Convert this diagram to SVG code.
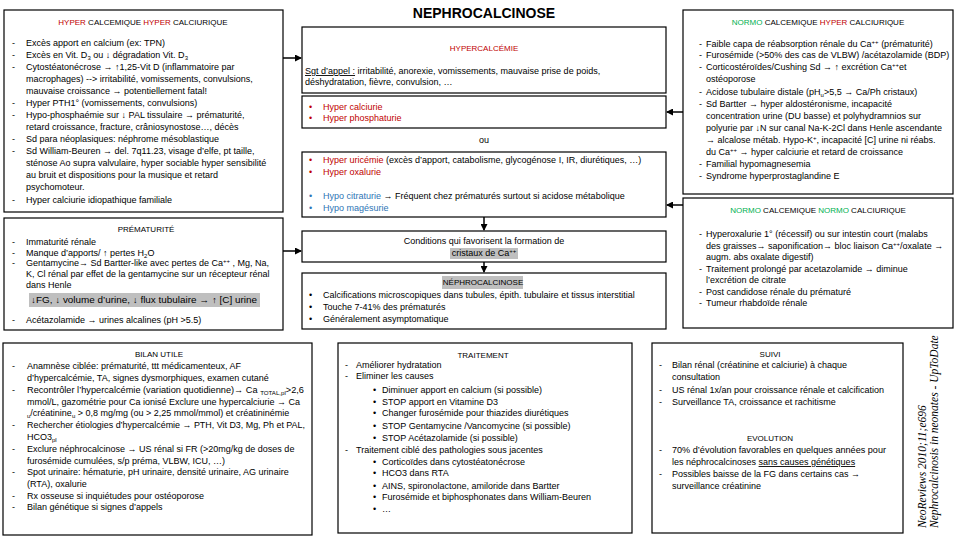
<svg xmlns="http://www.w3.org/2000/svg" width="960" height="540" viewBox="0 0 960 540">
<defs>
<style>
text{font-family:"Liberation Sans",Arial,sans-serif;font-size:9px;fill:#000}
.hd{font-size:8px}
.c{text-anchor:middle}
.box{fill:#fff;stroke:#000;stroke-width:1.2}
.r{fill:#c00000}
.g{fill:#00b050}
.b{fill:#2e75b6}
.hl{fill:#bfbfbf}
.title{font-size:14px;font-weight:bold}
.cite{font-family:"Liberation Serif","Times New Roman",serif;font-style:italic;font-size:11.5px}
.conn line{stroke:#000;stroke-width:1.5}
.u{text-decoration:underline}
.sm{font-size:6px}
</style>
<marker id="ah" markerWidth="7" markerHeight="7" refX="6" refY="3.5" orient="auto" markerUnits="userSpaceOnUse"><path d="M0,0 L7,3.5 L0,7 z" fill="#000"/></marker>
</defs>
<rect width="960" height="540" fill="#fff"/>

<text class="c title" x="484" y="18">NEPHROCALCINOSE</text>

<g id="hyper-hyper">
<rect class="box" x="4" y="10" width="279" height="202"/>
<text class="c hd" x="143" y="25"><tspan class="r">HYPER</tspan> CALCEMIQUE <tspan class="r">HYPER</tspan> CALCIURIQUE</text>
<text x="12" y="46">-</text><text x="26" y="46">Excès apport en calcium (ex: TPN)</text>
<text x="12" y="58">-</text><text x="26" y="58">Excès en Vit. D<tspan class="sm" dy="1.5">3</tspan><tspan dy="-1.5"> ou ↓ dégradation Vit. D</tspan><tspan class="sm" dy="1.5">3</tspan></text>
<text x="12" y="70">-</text><text x="26" y="70">Cytostéatonécrose → ↑1,25-Vit D (inflammatoire par</text>
<text x="26" y="82">macrophages) --&gt; irritabilité, vomissements, convulsions,</text>
<text x="26" y="94">mauvaise croissance → potentiellement fatal!</text>
<text x="12" y="106">-</text><text x="26" y="106">Hyper PTH1° (vomissements, convulsions)</text>
<text x="12" y="118">-</text><text x="26" y="118">Hypo-phosphaémie sur ↓ PAL tissulaire → prématurité,</text>
<text x="26" y="130">retard croissance, fracture, crâniosynostose…, décès</text>
<text x="12" y="142">-</text><text x="26" y="142">Sd para néoplasiques: néphrome mésoblastique</text>
<text x="12" y="154">-</text><text x="26" y="154">Sd William-Beuren → del. 7q11.23, visage d’elfe, pt taille,</text>
<text x="26" y="166">sténose Ao supra valvulaire, hyper sociable hyper sensibilité</text>
<text x="26" y="178">au bruit et dispositions pour la musique et retard</text>
<text x="26" y="190">psychomoteur.</text>
<text x="12" y="203">-</text><text x="26" y="203">Hyper calciurie idiopathique familiale</text>
</g>

<g id="prematurite">
<rect class="box" x="4" y="218" width="279" height="112"/>
<text class="c hd" x="146" y="232">PRÉMATURITÉ</text>
<text x="12" y="245">-</text><text x="26" y="245">Immaturité rénale</text>
<text x="12" y="256">-</text><text x="26" y="256">Manque d’apports/ ↑ pertes H<tspan class="sm" dy="1.5">2</tspan><tspan dy="-1.5">O</tspan></text>
<text x="12" y="266">-</text><text x="26" y="266">Gentamycine→ Sd Bartter-like avec pertes de Ca<tspan class="sm" dy="-3">++</tspan><tspan dy="3"> , Mg, Na,</tspan></text>
<text x="26" y="277">K, Cl rénal par effet de la gentamycine sur un récepteur rénal</text>
<text x="26" y="288">dans Henle</text>
<rect class="hl" x="29" y="293" width="231" height="14"/>
<text x="31" y="303" textLength="226" lengthAdjust="spacingAndGlyphs">↓FG, ↓ volume d’urine, ↓ flux tubulaire → ↑ [C] urine</text>
<text x="12" y="323">-</text><text x="26" y="323">Acétazolamide → urines alcalines (pH &gt;5.5)</text>
</g>

<g id="bilan">
<rect class="box" x="3" y="343" width="309" height="192"/>
<text class="c hd" x="159" y="357">BILAN UTILE</text>
<text x="12" y="369">-</text><text x="27" y="369">Anamnèse ciblée: prématurité, ttt médicamenteux, AF</text>
<text x="27" y="381">d’hypercalcémie, TA, signes dysmorphiques, examen cutané</text>
<text x="12" y="393">-</text><text x="27" y="393" textLength="277" lengthAdjust="spacingAndGlyphs">Recontrôler l’hypercalcémie (variation quotidienne)→ Ca <tspan class="sm" dy="1.5">TOTAL,pl</tspan><tspan dy="-1.5">&gt;2,6</tspan></text>
<text x="27" y="405">mmol/L, gazométrie pour Ca ionisé Exclure une hypercalciurie → Ca</text>
<text x="27" y="416"><tspan class="sm" dy="1.5">u</tspan><tspan dy="-1.5">/créatinine</tspan><tspan class="sm" dy="1.5">u</tspan><tspan dy="-1.5"> &gt; 0,8 mg/mg (ou &gt; 2,25 mmol/mmol) et créatininémie</tspan></text>
<text x="12" y="428">-</text><text x="27" y="428" textLength="278" lengthAdjust="spacingAndGlyphs">Rechercher étiologies d’hypercalcémie → PTH, Vit D3, Mg, Ph et PAL,</text>
<text x="27" y="440">HCO3<tspan class="sm" dy="1.5">pl</tspan></text>
<text x="12" y="452">-</text><text x="27" y="452">Exclure néphrocalcinose → US rénal si FR (&gt;20mg/kg de doses de</text>
<text x="27" y="464">furosémide cumulées, s/p préma, VLBW, ICU, …)</text>
<text x="12" y="475">-</text><text x="27" y="475">Spot urinaire: hématurie, pH urinaire, densité urinaire, AG urinaire</text>
<text x="27" y="487">(RTA), oxalurie</text>
<text x="12" y="499">-</text><text x="27" y="499">Rx osseuse si inquiétudes pour ostéoporose</text>
<text x="12" y="510">-</text><text x="27" y="510">Bilan génétique si signes d’appels</text>
</g>

<g id="hypercalcemie">
<rect class="box" x="302" y="27" width="364" height="66"/>
<text class="c r hd" x="484" y="51">HYPERCALCÉMIE</text>
<text x="305" y="74"><tspan class="u">Sgt d’appel :</tspan> irritabilité, anorexie, vomissements, mauvaise prise de poids,</text>
<text x="305" y="85">déshydratation, fièvre, convulsion, …</text>
</g>

<g id="hypercalciurie">
<rect class="box" x="302" y="96" width="364" height="32"/>
<text class="r" x="309" y="110">•</text><text class="r" x="323" y="110">Hyper calciurie</text>
<text class="r" x="309" y="121">•</text><text class="r" x="323" y="121">Hyper phosphaturie</text>
</g>

<text class="c" x="484" y="143">ou</text>

<g id="autres-causes">
<rect class="box" x="302" y="152" width="364" height="65"/>
<text class="r" x="309" y="163">•</text><text x="323" y="163"><tspan class="r">Hyper uricémie</tspan> (excès d’apport, catabolisme, glycogénose I, IR, diurétiques, …)</text>
<text class="r" x="309" y="175">•</text><text class="r" x="323" y="175">Hyper oxalurie</text>
<text class="b" x="309" y="199">•</text><text x="323" y="199"><tspan class="b">Hypo citraturie</tspan> → Fréquent chez prématurés surtout si acidose métabolique</text>
<text class="b" x="309" y="211">•</text><text class="b" x="323" y="211">Hypo magésurie</text>
</g>

<g id="conditions">
<rect class="box" x="302" y="231" width="364" height="31"/>
<text class="c" x="484" y="244">Conditions qui favorisent la formation de</text>
<rect class="hl" x="450" y="248" width="68" height="11"/>
<text class="c" x="484" y="256">cristaux de Ca<tspan class="sm" dy="-3">++</tspan></text>
</g>

<g id="nephrocalcinose">
<rect class="box" x="302" y="273" width="364" height="56"/>
<rect class="hl" x="442" y="276" width="81" height="13"/>
<text class="c hd" x="483" y="285">NÉPHROCALCINOSE</text>
<text x="309" y="298">•</text><text x="323" y="298">Calcifications microscopiques dans tubules, épith. tubulaire et tissus interstitial</text>
<text x="309" y="310">•</text><text x="323" y="310">Touche 7-41% des prématurés</text>
<text x="309" y="322">•</text><text x="323" y="322">Généralement asymptomatique</text>
</g>

<g id="traitement">
<rect class="box" x="338" y="343" width="294" height="190"/>
<text class="c hd" x="483" y="358">TRAITEMENT</text>
<text x="345" y="368">-</text><text x="356" y="368">Améliorer hydratation</text>
<text x="345" y="379">-</text><text x="356" y="379">Eliminer les causes</text>
<text x="373" y="393">•</text><text x="382" y="393">Diminuer apport en calcium (si possible)</text>
<text x="373" y="405">•</text><text x="382" y="405">STOP apport en Vitamine D3</text>
<text x="373" y="416">•</text><text x="382" y="416">Changer furosémide pour thiazides diurétiques</text>
<text x="373" y="429">•</text><text x="382" y="429">STOP Gentamycine /Vancomycine (si possible)</text>
<text x="373" y="441">•</text><text x="382" y="441">STOP Acétazolamide (si possible)</text>
<text x="345" y="453">-</text><text x="356" y="453">Traitement ciblé des pathologies sous jacentes</text>
<text x="373" y="465">•</text><text x="382" y="465">Corticoïdes dans cytostéatonécrose</text>
<text x="373" y="476">•</text><text x="382" y="476">HCO3 dans RTA</text>
<text x="373" y="489">•</text><text x="382" y="489">AINS, spironolactone, amiloride dans Bartter</text>
<text x="373" y="500">•</text><text x="382" y="500">Furosémide et biphosphonates dans William-Beuren</text>
<text x="373" y="512">•</text><text x="382" y="512">…</text>
</g>

<g id="normo-hyper">
<rect class="box" x="683" y="10" width="270" height="184"/>
<text class="c hd" x="818" y="25"><tspan class="g">NORMO</tspan> CALCEMIQUE <tspan class="r">HYPER</tspan> CALCIURIQUE</text>
<text x="699" y="47">-</text><text x="706" y="47">Faible capa de réabsorption rénale du Ca<tspan class="sm" dy="-3">++</tspan><tspan dy="3"> (prématurité)</tspan></text>
<text x="699" y="58">-</text><text x="706" y="58">Furosémide (&gt;50% des cas de VLBW) /acétazolamide (BDP)</text>
<text x="699" y="70">-</text><text x="706" y="70">Corticostéroïdes/Cushing Sd → ↑ excrétion Ca<tspan class="sm" dy="-3">++</tspan><tspan dy="3">et</tspan></text>
<text x="706" y="82">ostéoporose</text>
<text x="699" y="95">-</text><text x="706" y="95">Acidose tubulaire distale (pH<tspan class="sm" dy="1.5">u</tspan><tspan dy="-1.5">&gt;5,5 → Ca/Ph cristaux)</tspan></text>
<text x="699" y="107">-</text><text x="706" y="107">Sd Bartter → hyper aldostéronisme, incapacité</text>
<text x="706" y="119">concentration urine (DU basse) et polyhydramnios sur</text>
<text x="706" y="131" textLength="236" lengthAdjust="spacingAndGlyphs">polyurie  par ↓N sur canal Na-K-2Cl dans Henle ascendante</text>
<text x="706" y="143">→ alcalose métab. Hypo-K<tspan class="sm" dy="-3">+</tspan><tspan dy="3">, incapacité [C] urine ni réabs.</tspan></text>
<text x="706" y="155">du Ca<tspan class="sm" dy="-3">++</tspan><tspan dy="3"> → hyper calciurie et retard de croissance</tspan></text>
<text x="699" y="167">-</text><text x="706" y="167">Familial hypomagnesemia</text>
<text x="699" y="179">-</text><text x="706" y="179">Syndrome hyperprostaglandine E</text>
</g>

<g id="normo-normo">
<rect class="box" x="683" y="198" width="270" height="130"/>
<text class="c hd" x="818" y="213"><tspan class="g">NORMO</tspan> CALCEMIQUE <tspan class="g">NORMO</tspan> CALCIURIQUE</text>
<text x="699" y="237">-</text><text x="706" y="237">Hyperoxalurie 1° (récessif) ou sur intestin court (malabs</text>
<text x="706" y="249">des graisses→ saponification→ bloc liaison Ca<tspan class="sm" dy="-3">++</tspan><tspan dy="3">/oxalate →</tspan></text>
<text x="706" y="260">augm. abs oxalate digestif)</text>
<text x="699" y="272">-</text><text x="706" y="272">Traitement prolongé par acetazolamide → diminue</text>
<text x="706" y="283">l’excrétion de citrate</text>
<text x="699" y="295">-</text><text x="706" y="295">Post candidose rénale du prématuré</text>
<text x="699" y="306">-</text><text x="706" y="306">Tumeur rhabdoïde rénale</text>
</g>

<g id="suivi">
<rect class="box" x="652" y="343" width="251" height="190"/>
<text class="c hd" x="770" y="357">SUIVI</text>
<text x="659" y="368">-</text><text x="672" y="368">Bilan rénal (créatinine et calciurie) à chaque</text>
<text x="672" y="380">consultation</text>
<text x="659" y="393">-</text><text x="672" y="393" textLength="212" lengthAdjust="spacingAndGlyphs">US rénal 1x/an pour croissance rénale et calcification</text>
<text x="659" y="405">-</text><text x="672" y="405">Surveillance TA, croissance et rachitisme</text>
<text class="c hd" x="770" y="441">EVOLUTION</text>
<text x="659" y="453">-</text><text x="672" y="453" textLength="214" lengthAdjust="spacingAndGlyphs">70% d’évolution favorables en quelques années pour</text>
<text x="672" y="465">les néphrocalcinoses <tspan class="u">sans causes génétiques</tspan></text>
<text x="659" y="477">-</text><text x="672" y="477">Possibles baisse de la FG dans certains cas →</text>
<text x="672" y="489">surveillance créatinine</text>
</g>

<g id="sources">
<text class="cite" transform="translate(926,528) rotate(-90)">NeoReviews 2010;11;e696</text>
<text class="cite" transform="translate(938,528) rotate(-90)">Nephrocalcinosis in neonates - UpToDate</text>
</g>

<g class="conn" id="connectors">
<line x1="283" y1="58" x2="301" y2="58" marker-end="url(#ah)"/>
<line x1="283" y1="251" x2="301" y2="251" marker-end="url(#ah)"/>
<line x1="683" y1="112" x2="667" y2="112" marker-end="url(#ah)"/>
<line x1="683" y1="205" x2="667" y2="205" marker-end="url(#ah)"/>
<line x1="484" y1="217" x2="484" y2="230" marker-end="url(#ah)"/>
<line x1="484" y1="262" x2="484" y2="272" marker-end="url(#ah)"/>
</g>
</svg>
